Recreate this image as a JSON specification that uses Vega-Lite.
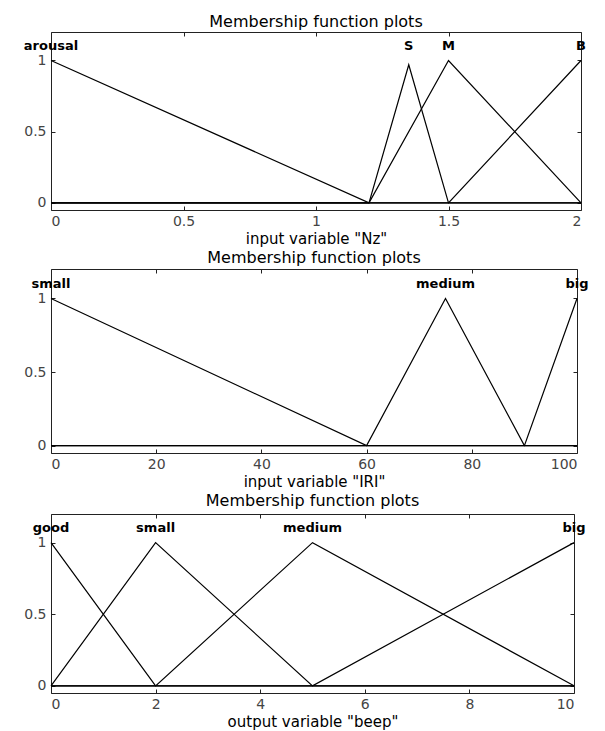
{
  "$schema": "https://vega.github.io/schema/vega-lite/v6.json",
  "background": "white",
  "padding": {"left": 23, "top": 13, "right": 5, "bottom": 0},
  "spacing": 2,
  "datasets": {
    "nz": [
      {"mf": "arousal", "x": 0, "y": 1}, {"mf": "arousal", "x": 1.2, "y": 0}, {"mf": "arousal", "x": 2, "y": 0},
      {"mf": "S", "x": 0, "y": 0}, {"mf": "S", "x": 1.2, "y": 0}, {"mf": "S", "x": 1.35, "y": 0.97}, {"mf": "S", "x": 1.5, "y": 0}, {"mf": "S", "x": 2, "y": 0},
      {"mf": "M", "x": 0, "y": 0}, {"mf": "M", "x": 1.2, "y": 0}, {"mf": "M", "x": 1.5, "y": 1}, {"mf": "M", "x": 2, "y": 0},
      {"mf": "B", "x": 0, "y": 0}, {"mf": "B", "x": 1.5, "y": 0}, {"mf": "B", "x": 2, "y": 1}
    ],
    "nzLabels": [
      {"label": "arousal", "x": 0}, {"label": "S", "x": 1.35}, {"label": "M", "x": 1.5}, {"label": "B", "x": 2}
    ],
    "iri": [
      {"mf": "small", "x": 0, "y": 1}, {"mf": "small", "x": 60, "y": 0}, {"mf": "small", "x": 100, "y": 0},
      {"mf": "medium", "x": 0, "y": 0}, {"mf": "medium", "x": 60, "y": 0}, {"mf": "medium", "x": 75, "y": 1}, {"mf": "medium", "x": 90, "y": 0}, {"mf": "medium", "x": 100, "y": 0},
      {"mf": "big", "x": 0, "y": 0}, {"mf": "big", "x": 90, "y": 0}, {"mf": "big", "x": 100, "y": 1}
    ],
    "iriLabels": [
      {"label": "small", "x": 0}, {"label": "medium", "x": 75}, {"label": "big", "x": 100}
    ],
    "beep": [
      {"mf": "good", "x": 0, "y": 1}, {"mf": "good", "x": 2, "y": 0}, {"mf": "good", "x": 10, "y": 0},
      {"mf": "small", "x": 0, "y": 0}, {"mf": "small", "x": 2, "y": 1}, {"mf": "small", "x": 5, "y": 0}, {"mf": "small", "x": 10, "y": 0},
      {"mf": "medium", "x": 0, "y": 0}, {"mf": "medium", "x": 2, "y": 0}, {"mf": "medium", "x": 5, "y": 1}, {"mf": "medium", "x": 10, "y": 0},
      {"mf": "big", "x": 0, "y": 0}, {"mf": "big", "x": 5, "y": 0}, {"mf": "big", "x": 10, "y": 1}
    ],
    "beepLabels": [
      {"label": "good", "x": 0}, {"label": "small", "x": 2}, {"label": "medium", "x": 5}, {"label": "big", "x": 10}
    ]
  },
  "vconcat": [
    {
      "title": {"text": "Membership function plots"},
      "width": 530,
      "height": 178,
      "resolve": {"axis": {"x": "independent", "y": "independent"}},
      "layer": [
        {
          "data": {"name": "nz"},
          "mark": {"type": "line", "color": "black", "strokeWidth": 1.2, "clip": false},
          "encoding": {
            "x": {"field": "x", "type": "quantitative", "scale": {"domain": [0, 2], "nice": false, "zero": false}, "axis": {"orient": "bottom", "values": [0, 0.5, 1, 1.5, 2], "format": "~r", "title": "input variable \"Nz\""}},
            "y": {"field": "y", "type": "quantitative", "scale": {"domain": [-0.05, 1.2], "nice": false, "zero": false}, "axis": {"orient": "left", "values": [0, 0.5, 1], "format": "~r", "title": null}},
            "detail": {"field": "mf"}
          }
        },
        {
          "data": {"name": "nzLabels"},
          "mark": {"type": "text", "fontWeight": "bold", "fontSize": 13, "baseline": "middle", "align": "center", "color": "black"},
          "encoding": {
            "x": {"field": "x", "type": "quantitative", "scale": {"domain": [0, 2], "nice": false, "zero": false}, "axis": {"orient": "top", "values": [0, 0.5, 1, 1.5, 2], "labels": false, "title": null}},
            "y": {"datum": 1.1, "type": "quantitative", "scale": {"domain": [-0.05, 1.2], "nice": false, "zero": false}, "axis": {"orient": "right", "values": [0, 0.5, 1], "labels": false, "title": null}},
            "text": {"field": "label"}
          }
        }
      ]
    },
    {
      "title": {"text": "Membership function plots", "offset": 3},
      "width": 526,
      "height": 184,
      "resolve": {"axis": {"x": "independent", "y": "independent"}},
      "layer": [
        {
          "data": {"name": "iri"},
          "mark": {"type": "line", "color": "black", "strokeWidth": 1.2, "clip": false},
          "encoding": {
            "x": {"field": "x", "type": "quantitative", "scale": {"domain": [0, 100], "nice": false, "zero": false}, "axis": {"orient": "bottom", "values": [0, 20, 40, 60, 80, 100], "format": "~r", "title": "input variable \"IRI\""}},
            "y": {"field": "y", "type": "quantitative", "scale": {"domain": [-0.05, 1.2], "nice": false, "zero": false}, "axis": {"orient": "left", "values": [0, 0.5, 1], "format": "~r", "title": null}},
            "detail": {"field": "mf"}
          }
        },
        {
          "data": {"name": "iriLabels"},
          "mark": {"type": "text", "fontWeight": "bold", "fontSize": 13, "baseline": "middle", "align": "center", "color": "black"},
          "encoding": {
            "x": {"field": "x", "type": "quantitative", "scale": {"domain": [0, 100], "nice": false, "zero": false}, "axis": {"orient": "top", "values": [0, 20, 40, 60, 80, 100], "labels": false, "title": null}},
            "y": {"datum": 1.1, "type": "quantitative", "scale": {"domain": [-0.05, 1.2], "nice": false, "zero": false}, "axis": {"orient": "right", "values": [0, 0.5, 1], "labels": false, "title": null}},
            "text": {"field": "label"}
          }
        }
      ]
    },
    {
      "title": {"text": "Membership function plots", "offset": 5},
      "width": 523,
      "height": 179,
      "resolve": {"axis": {"x": "independent", "y": "independent"}},
      "layer": [
        {
          "data": {"name": "beep"},
          "mark": {"type": "line", "color": "black", "strokeWidth": 1.2, "clip": false},
          "encoding": {
            "x": {"field": "x", "type": "quantitative", "scale": {"domain": [0, 10], "nice": false, "zero": false}, "axis": {"orient": "bottom", "values": [0, 2, 4, 6, 8, 10], "format": "~r", "title": "output variable \"beep\""}},
            "y": {"field": "y", "type": "quantitative", "scale": {"domain": [-0.05, 1.2], "nice": false, "zero": false}, "axis": {"orient": "left", "values": [0, 0.5, 1], "format": "~r", "title": null}},
            "detail": {"field": "mf"}
          }
        },
        {
          "data": {"name": "beepLabels"},
          "mark": {"type": "text", "fontWeight": "bold", "fontSize": 13, "baseline": "middle", "align": "center", "color": "black"},
          "encoding": {
            "x": {"field": "x", "type": "quantitative", "scale": {"domain": [0, 10], "nice": false, "zero": false}, "axis": {"orient": "top", "values": [0, 2, 4, 6, 8, 10], "labels": false, "title": null}},
            "y": {"datum": 1.1, "type": "quantitative", "scale": {"domain": [-0.05, 1.2], "nice": false, "zero": false}, "axis": {"orient": "right", "values": [0, 0.5, 1], "labels": false, "title": null}},
            "text": {"field": "label"}
          }
        }
      ]
    }
  ],
  "config": {
    "font": "DejaVu Sans",
    "text": {"font": "DejaVu Sans"},
    "view": {"stroke": "#222", "strokeWidth": 1},
    "axis": {
      "grid": false,
      "domain": false,
      "labelFont": "DejaVu Sans",
      "labelFontSize": 14,
      "labelColor": "#444",
      "labelPadding": 9,
      "tickColor": "#222",
      "tickSize": -4,
      "titleFont": "DejaVu Sans",
      "titleFontSize": 15,
      "titleFontWeight": "normal",
      "titleColor": "black",
      "titlePadding": 3
    },
    "axisX": {"labelPadding": 8},
    "title": {"font": "DejaVu Sans", "fontSize": 16, "fontWeight": "normal", "color": "black", "offset": 2, "frame": "group"}
  }
}
